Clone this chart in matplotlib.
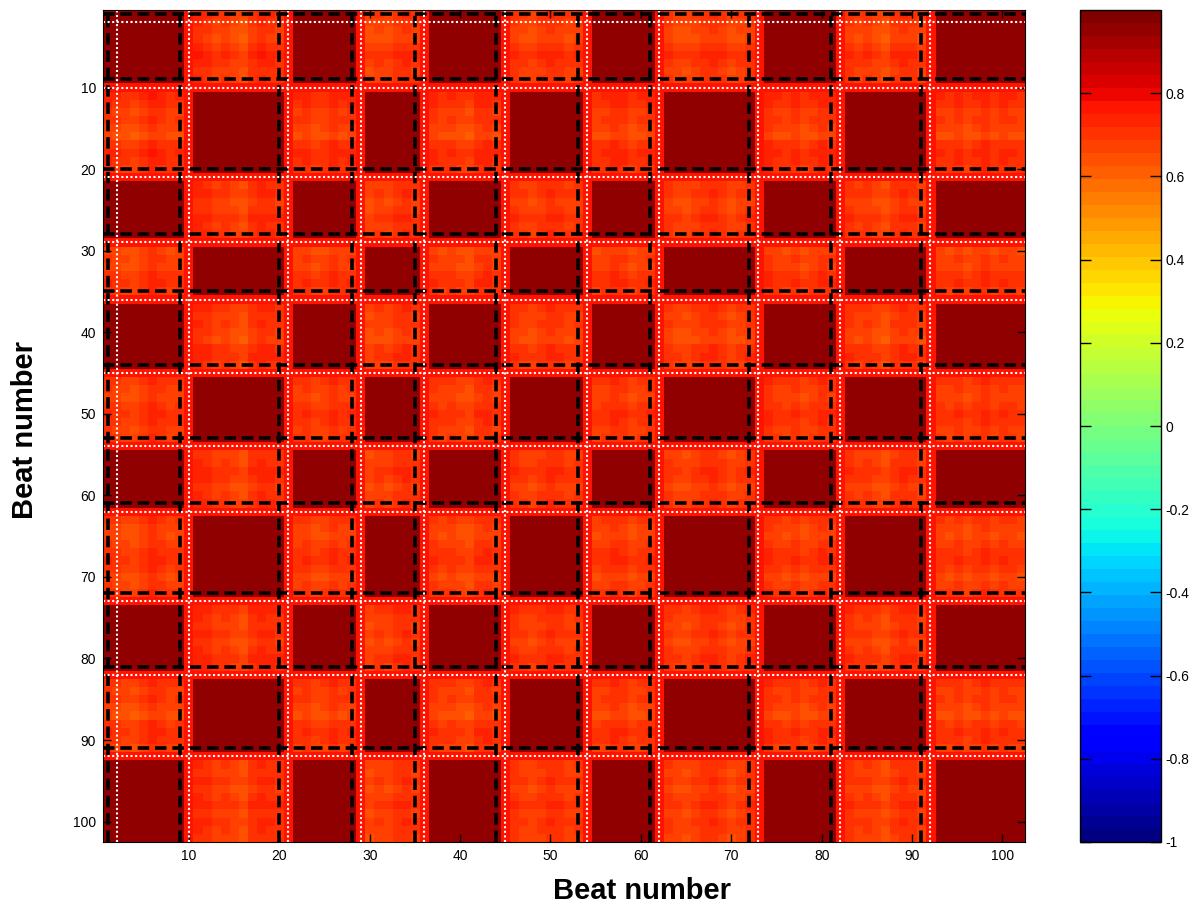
import numpy as np
import matplotlib
matplotlib.use('Agg')
import matplotlib.pyplot as plt

plt.rcParams['font.family'] = ['Liberation Sans', 'DejaVu Sans']

n_beats = 102

# beat segments and the beat group each one belongs to
seg_first = [1, 11, 22, 30, 37, 46, 55, 63, 74, 83, 93]
seg_last = [9, 20, 28, 35, 44, 53, 61, 72, 81, 91, 102]
seg_group = ['A', 'B', 'A', 'B', 'A', 'B', 'A', 'B', 'A', 'B', 'A']
# beats sitting between two segments
transition_beats = [10, 21, 29, 36, 45, 54, 62, 73, 82, 92]

# how far each beat departs from its group template
beat_spread = [
    0.06, 0.07, 0.09, 0.10, 0.07, 0.04, 0.06, 0.08, 0.07, 0.00,
    0.04, 0.05, 0.08, 0.07, 0.09, 0.11, 0.06, 0.04, 0.05, 0.06,
    0.00, 0.07, 0.06, 0.09, 0.08, 0.05, 0.07, 0.06, 0.00, 0.10,
    0.08, 0.09, 0.06, 0.05, 0.07, 0.00, 0.06, 0.08, 0.07, 0.09,
    0.10, 0.06, 0.05, 0.07, 0.00, 0.06, 0.08, 0.09, 0.07, 0.05,
    0.06, 0.08, 0.07, 0.00, 0.08, 0.07, 0.05, 0.06, 0.09, 0.07,
    0.06, 0.00, 0.07, 0.09, 0.10, 0.08, 0.06, 0.05, 0.07, 0.10,
    0.08, 0.06, 0.00, 0.05, 0.07, 0.08, 0.06, 0.09, 0.07, 0.05,
    0.06, 0.00, 0.06, 0.08, 0.07, 0.09, 0.11, 0.07, 0.05, 0.06,
    0.08, 0.00, 0.07, 0.08, 0.06, 0.09, 0.07, 0.05, 0.08, 0.06,
    0.07, 0.08,
]

same_group_corr = 0.965
cross_group_corr = 0.83
transition_corr = 0.78

# segment boundaries drawn over the matrix
seg_end_lines = [1, 9, 20, 28, 35, 44, 53, 61, 72, 81, 91]
seg_start_lines = [2, 10, 21, 29, 36, 45, 54, 62, 73, 82, 92]

group = np.array(['T'] * n_beats)
for a, b, g in zip(seg_first, seg_last, seg_group):
    group[a - 1:b] = g
spread = np.array(beat_spread)

corr = np.empty((n_beats, n_beats))
for i in range(n_beats):
    for j in range(n_beats):
        if group[i] == 'T' or group[j] == 'T':
            corr[i, j] = transition_corr
        elif group[i] == group[j]:
            corr[i, j] = same_group_corr - 0.05 * (spread[i] + spread[j])
        else:
            corr[i, j] = cross_group_corr - spread[i] - spread[j]

fig = plt.figure(figsize=(11.94, 9.21), dpi=100)
ax = fig.add_axes([0.0863, 0.0858, 0.7722, 0.9033])
cax = fig.add_axes([0.9045, 0.0858, 0.0679, 0.9033])

cmap = plt.get_cmap('jet', 64)
im = ax.imshow(corr, cmap=cmap, vmin=-1, vmax=1, aspect='auto',
               interpolation='nearest',
               extent=(0.5, n_beats + 0.5, n_beats + 0.5, 0.5))

for p in seg_end_lines:
    ax.axvline(p, color='black', lw=2.6, linestyle=(0, (3.2, 1.6)))
    ax.axhline(p, color='black', lw=2.6, linestyle=(0, (3.2, 1.6)))
for p in seg_start_lines:
    ax.axvline(p, color='white', lw=1.5, linestyle=(0, (1, 1.2)))
    ax.axhline(p, color='white', lw=1.5, linestyle=(0, (1, 1.2)))

ax.set_xlim(0.5, n_beats + 0.5)
ax.set_ylim(n_beats + 0.5, 0.5)
ax.set_xticks(np.arange(10, 101, 10))
ax.set_yticks(np.arange(10, 101, 10))
ax.tick_params(direction='in', top=True, right=True, length=6, width=1,
               labelsize=10, pad=5)

fig.text(0.5377, 0.0326, 'Beat number', fontsize=21, fontweight='bold',
         ha='center', va='center')
fig.text(0.021, 0.533, 'Beat number', fontsize=21, fontweight='bold',
         ha='center', va='center', rotation=90)

cb = fig.colorbar(im, cax=cax)
cb_ticks = np.round(np.arange(-1, 0.81, 0.2), 1) + 0.0
cb.set_ticks(cb_ticks)
cb.set_ticklabels([f'{abs(t):g}' if abs(t) < 1e-9 else f'{t:g}' for t in cb_ticks])
cax.tick_params(direction='in', left=True, right=True, length=8, width=1,
                labelsize=10, pad=3)
cb.outline.set_linewidth(1)

fig.savefig('out.png', dpi=100)
